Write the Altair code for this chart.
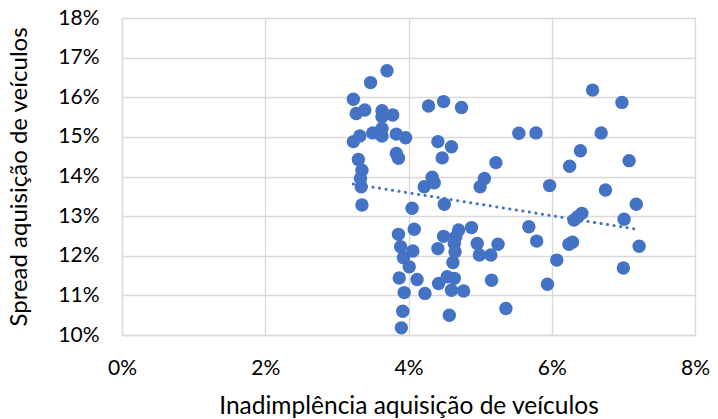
import altair as alt
import pandas as pd

# Inadimplência (%), Spread (%)
x_vals = [3.70, 3.47, 3.23, 3.27, 3.39, 3.63, 3.78, 3.63, 3.23, 3.32, 3.50, 3.63, 3.63, 3.83, 3.96,
          3.83, 3.86, 3.30, 3.35, 3.33, 3.34, 3.35, 4.05, 4.22, 4.33, 4.36, 4.28, 4.49, 4.74, 4.41,
          4.60, 4.47, 4.50, 5.22, 5.06, 5.00, 5.54, 5.78, 6.57, 6.98, 6.69, 6.40, 6.25, 7.08, 5.97,
          6.75, 7.18, 6.42, 6.36, 6.31, 7.01, 5.68, 5.79, 6.24, 6.29, 7.22, 6.07, 7.00, 5.94, 5.36,
          4.08, 3.86, 3.89, 4.06, 3.93, 4.01, 3.87, 4.12, 3.94, 4.23, 3.92, 3.90, 4.49, 4.41, 4.70,
          4.88, 4.66, 4.64, 4.65, 4.62, 4.96, 4.99, 5.15, 5.25, 4.42, 4.54, 4.64, 4.60, 4.77, 5.16,
          4.57]
y_vals = [16.67, 16.37, 15.95, 15.59, 15.68, 15.66, 15.55, 15.51, 14.88, 15.02, 15.10, 15.21, 15.02, 15.07, 14.98,
          14.58, 14.46, 14.43, 14.16, 13.95, 13.74, 13.28, 13.20, 13.74, 13.98, 13.84, 15.78, 15.89, 15.74, 14.88,
          14.75, 14.47, 13.30, 14.35, 13.95, 13.74, 15.09, 15.10, 16.18, 15.87, 15.10, 14.65, 14.26, 14.40, 13.77,
          13.66, 13.30, 13.07, 12.98, 12.90, 12.92, 12.73, 12.37, 12.29, 12.34, 12.24, 11.89, 11.69, 11.28, 10.67,
          12.67, 12.54, 12.23, 12.12, 11.95, 11.72, 11.44, 11.40, 11.07, 11.05, 10.60, 10.18, 12.49, 12.18, 12.65,
          12.71, 12.48, 12.31, 12.10, 11.83, 12.31, 12.02, 12.02, 12.29, 11.30, 11.47, 11.43, 11.13, 11.11, 11.38,
          10.50]

# Linear trend line
trend_x = [3.23, 7.22]
trend_y = [13.81, 12.66]

x_ticks = [0, 2, 4, 6, 8]
y_ticks = [10, 11, 12, 13, 14, 15, 16, 17, 18]

df = pd.DataFrame({"x": x_vals, "y": y_vals})
df_trend = pd.DataFrame({"x": trend_x, "y": trend_y})

FONT = "Lato"
BLUE = "#4472C4"
GRID = "#d9d9d9"

xscale = alt.Scale(domain=[0, 8], nice=False, zero=False)
yscale = alt.Scale(domain=[10, 18], nice=False, zero=False)

x_axis = alt.Axis(values=x_ticks, labelExpr="datum.value + '%'", title="Inadimplência aquisição de veículos",
                  ticks=False, labelPadding=22, titlePadding=16, labelFontSize=21, titleFontSize=24.5,
                  labelFont=FONT, titleFont=FONT, labelColor="#000", titleColor="#000",
                  titleFontWeight="normal", grid=True, gridColor=GRID, gridWidth=1.3,
                  domainColor=GRID, domainWidth=1.3, labelFlush=False, labelOverlap=False)
y_axis = alt.Axis(values=y_ticks, labelExpr="datum.value + '%'", title="Spread aquisição de veículos",
                  ticks=False, labelPadding=23, titlePadding=26, labelFontSize=21, titleFontSize=24,
                  labelFont=FONT, titleFont=FONT, labelColor="#000", titleColor="#000",
                  titleFontWeight="normal", grid=True, gridColor=GRID, gridWidth=1.3,
                  domainColor=GRID, domainWidth=1.3, labelFlush=False, labelOverlap=False)

points = alt.Chart(df).mark_circle(size=180, color=BLUE, opacity=1).encode(
    x=alt.X("x:Q", scale=xscale, axis=x_axis),
    y=alt.Y("y:Q", scale=yscale, axis=y_axis),
)

trend = alt.Chart(df_trend).mark_line(
    color=BLUE, strokeDash=[0.1, 6.5], strokeWidth=3, strokeCap="round"
).encode(
    x=alt.X("x:Q", scale=xscale, axis=x_axis),
    y=alt.Y("y:Q", scale=yscale, axis=y_axis),
)

chart = alt.layer(points, trend).properties(
    width=573, height=317,
    autosize=alt.AutoSizeParams(type="none"),
    padding={"left": 122, "top": 18, "right": 23, "bottom": 84},
).configure_view(stroke=None).configure(background="white")

chart.save("out.html", embed_options={"renderer": "svg", "actions": False})
